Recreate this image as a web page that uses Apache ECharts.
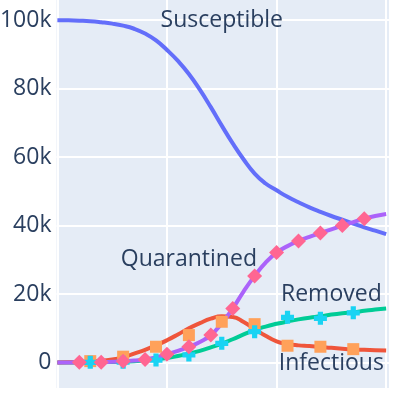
<!DOCTYPE html>
<html>
<head>
<meta charset="utf-8">
<script src="https://cdn.jsdelivr.net/npm/echarts@6/dist/echarts.min.js"></script>
<style>
html,body{margin:0;padding:0;background:#fff;}
#chart{width:399px;height:399px;}
</style>
</head>
<body>
<div id="chart"></div>
<script>
// Model curves, sampled every 5 days
const days = [0,5,10,15,20,25,30,35,40,45,50,55,60,65,70,75,80,85,90,95,100,105,110,115,120,125,130,135,140,145,150];
const susceptible = [100000,99950,99850,99700,99400,99000,98400,97500,96100,94100,91300,88100,84300,79700,74600,69200,64000,59300,55200,52300,50300,48400,46800,45300,44000,42800,41700,40600,39500,38500,37500];
const quarantined = [0,0,100,100,100,200,350,600,900,1500,2400,3400,4600,6000,8000,11500,15800,20800,25300,29200,32100,34000,35500,36700,37800,38900,40000,41000,42000,42800,43400];
const infectious = [0,50,100,300,500,900,1500,2600,3700,5000,6500,8200,10000,11500,12800,13500,13300,11800,9800,7800,6200,5400,5000,4800,4500,4300,4000,3800,3700,3600,3500];
const removed = [0,0,0,50,100,150,250,400,600,900,1300,1900,2600,3400,4400,5500,6800,8200,9500,10500,11300,12000,12600,13100,13500,14000,14400,14700,15100,15500,15800];

// Observed points
const quarantinedObsDays = [10,20,30,40,50,60,70,80,90,100,110,120,130,140];
const quarantinedObs = [100,100,350,900,2400,4600,8000,15800,25300,32100,35500,37800,40000,42000];
const obsDays = [15,30,45,60,75,90,105,120,135];
const infectiousObs = [400,1700,4600,8000,11900,11200,4900,4600,3900];
const removedObs = [50,100,700,2200,5600,9000,13200,12900,14500];

// Axis ticks
const yTickValues = [0,20000,40000,60000,80000,100000];
const yTickLabels = ['0','20k','40k','60k','80k','100k'];
const xTickValues = [0,50,100,150];

// Curve labels (anchored in data coordinates)
const labelNames = ['Susceptible','Quarantined','Removed','Infectious'];
const labelDays = [75,60,125,125];
const labelValues = [100000,30000,20000,-200];

const zip = (xs, ys) => xs.map((x, i) => [x, ys[i]]);
const FONT = '"Open Sans", sans-serif';
const TXT = '#2a3f5f';

function lineSeries(name, data, color) {
  return {
    name, type: 'line', data: zip(days, data), smooth: 0.5,
    showSymbol: false, symbol: 'none',
    lineStyle: { color, width: 4 }, itemStyle: { color },
    clip: false, animation: false, silent: true, z: 2
  };
}
function markerSeries(name, xs, ys, symbol, size, color, z) {
  return {
    name, type: 'scatter', data: zip(xs, ys), symbol, symbolSize: size,
    itemStyle: { color, opacity: 1 }, animation: false, silent: true, z
  };
}

const chart = echarts.init(document.getElementById('chart'), null, { renderer: 'canvas' });
chart.setOption({
  backgroundColor: '#ffffff',
  animation: false,
  grid: {
    left: 56.5, right: 10, top: 0, bottom: 11,
    show: true, backgroundColor: '#E5ECF6', borderWidth: 0,
    containLabel: false, outerBoundsMode: 'none'
  },
  xAxis: {
    type: 'value', min: -0.4, max: 151.3,
    axisLine: { show: false },
    axisTick: { show: false, customValues: xTickValues },
    axisLabel: { show: false, customValues: xTickValues },
    splitLine: { show: true, lineStyle: { color: '#ffffff', width: 2 } }
  },
  yAxis: {
    type: 'value', min: -7450, max: 105900,
    axisLine: { show: false },
    axisTick: { show: false, customValues: yTickValues },
    axisLabel: {
      show: true, customValues: yTickValues, margin: 5,
      fontSize: 23, fontFamily: FONT, color: TXT,
      formatter: v => yTickLabels[yTickValues.indexOf(v)]
    },
    splitLine: { show: true, lineStyle: { color: '#ffffff', width: 2 } }
  },
  series: [
    lineSeries('Susceptible', susceptible, '#636EFA'),
    lineSeries('Removed', removed, '#00CC96'),
    lineSeries('Infectious', infectious, '#EF553B'),
    lineSeries('Quarantined', quarantined, '#AB63FA'),
    markerSeries('Infectious obs', obsDays, infectiousObs, 'rect', 12, '#FFA15A', 3),
    markerSeries('Removed obs', obsDays, removedObs, 'path://M3,0H7V3H10V7H7V10H3V7H0V3H3Z', 13, '#19D3F3', 4),
    markerSeries('Quarantined obs', quarantinedObsDays, quarantinedObs, 'diamond', 15, '#FF6692', 5),
    {
      type: 'scatter', symbolSize: 0, animation: false, silent: true,
      itemStyle: { color: 'rgba(0,0,0,0)' },
      data: labelNames.map((n, i) => ({ name: n, value: [labelDays[i], labelValues[i]] })),
      label: {
        show: true, position: 'inside', formatter: p => p.name,
        fontSize: 23, fontFamily: FONT, color: TXT,
        textBorderWidth: 0, textBorderColor: 'transparent', opacity: 1
      },
      z: 10
    }
  ]
});
</script>
</body>
</html>
